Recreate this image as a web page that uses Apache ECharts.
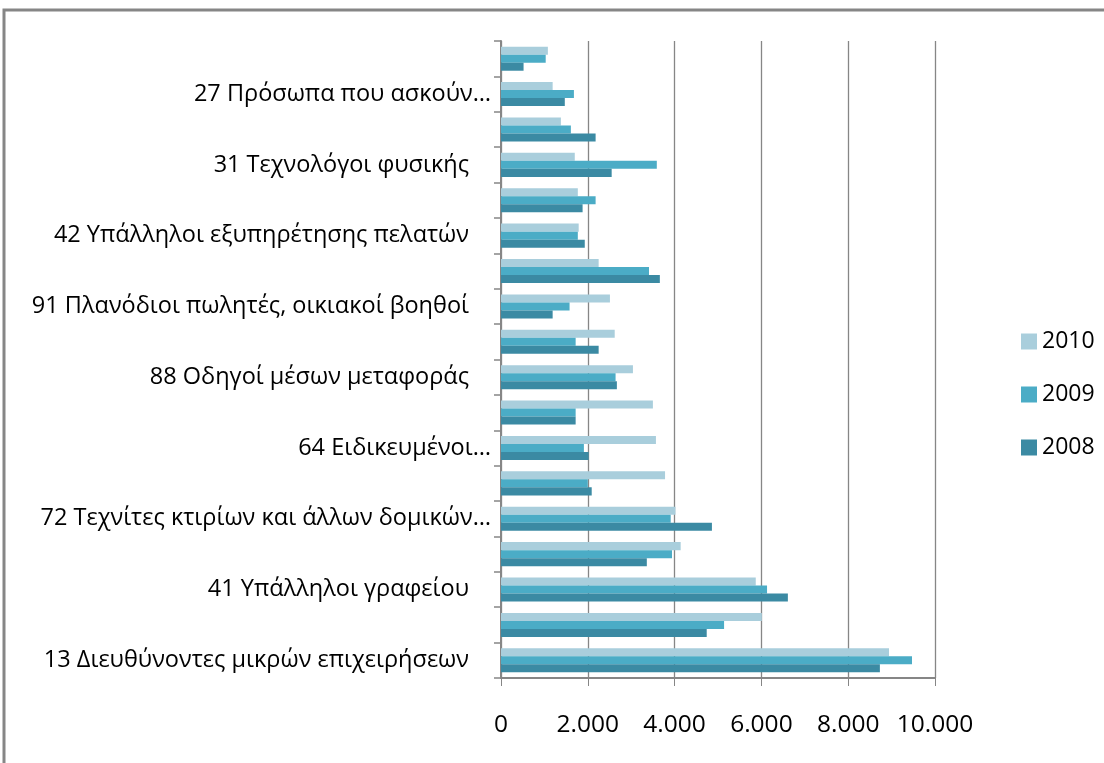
<!DOCTYPE html>
<html lang="el">

<head>
	<meta charset="UTF-8">
	<title>Επαγγέλματα 2008-2010</title>
	<script src="https://cdn.jsdelivr.net/npm/echarts@6/dist/echarts.min.js"></script>
	<style>
		html, body { margin: 0; padding: 0; background: #fff; }
	</style>
</head>

<body>
	<div id="main" style="width: 1104px;height: 763px;"></div>

	<script>
		// categories from bottom to top; only every other one is labelled in the original
		var categories = [
			'13 Διευθύνοντες μικρών επιχειρήσεων', '',
			'41 Υπάλληλοι γραφείου', '',
			'72 Τεχνίτες κτιρίων και άλλων δομικών…', '',
			'64 Ειδικευμένοι…', '',
			'88 Οδηγοί μέσων μεταφοράς', '',
			'91 Πλανόδιοι πωλητές, οικιακοί βοηθοί', '',
			'42 Υπάλληλοι εξυπηρέτησης πελατών', '',
			'31 Τεχνολόγοι φυσικής', '',
			'27 Πρόσωπα που ασκούν…', ''
		];
		var years = ['2010', '2009', '2008'];
		var v2010 = [8940, 6010, 5870, 4140, 4020, 3780, 3570, 3500, 3040, 2620, 2510, 2250, 1790, 1770, 1700, 1380, 1190, 1080];
		var v2009 = [9470, 5140, 6130, 3940, 3910, 2000, 1910, 1720, 2640, 1720, 1580, 3410, 1770, 2180, 3590, 1610, 1680, 1030];
		var v2008 = [8730, 4740, 6610, 3360, 4860, 2090, 2020, 1720, 2670, 2250, 1190, 3660, 1930, 1880, 2550, 2180, 1470, 520];
		var xTicks = [0, 2000, 4000, 6000, 8000, 10000];

		var colors = { '2010': '#A9CEDC', '2009': '#4BACC6', '2008': '#3B8AA3' };
		var values = { '2010': v2010, '2009': v2009, '2008': v2008 };
		var font = '"Open Sans", "Noto Sans", sans-serif';

		var chartDom = document.getElementById('main');
		var myChart = echarts.init(chartDom);

		var seriesList = years.map(function (y) {
			return {
				name: y,
				type: 'bar',
				data: values[y],
				itemStyle: { color: colors[y] },
				barGap: '0%',
				barCategoryGap: '32%',
				animation: false
			};
		});

		var option = {
			animation: false,
			textStyle: { fontFamily: font },
			graphic: [{
				type: 'rect',
				shape: { x: 4, y: 10, width: 1200, height: 900 },
				style: { fill: 'none', stroke: '#868686', lineWidth: 3 },
				silent: true
			}],
			grid: {
				left: 501,
				right: 169,
				top: 41,
				bottom: 85
			},
			legend: {
				orient: 'vertical',
				left: 1016,
				top: 325,
				data: years,
				itemWidth: 16,
				itemHeight: 16,
				itemGap: 30,
				icon: 'rect',
				textStyle: { fontFamily: font, fontSize: 23, color: '#000' }
			},
			xAxis: {
				type: 'value',
				min: xTicks[0],
				max: xTicks[xTicks.length - 1],
				interval: 2000,
				axisLine: { show: true, lineStyle: { color: '#868686', width: 2 } },
				axisTick: { show: true, length: 8, lineStyle: { color: '#868686', width: 1 } },
				splitLine: { show: true, lineStyle: { color: '#868686', width: 1.3 } },
				axisLabel: {
					margin: 35,
					fontFamily: font,
					fontSize: 24.5,
					color: '#000',
					formatter: function (v) {
						return String(v).replace(/\B(?=(\d{3})+(?!\d))/g, '.');
					}
				}
			},
			yAxis: {
				type: 'category',
				data: categories,
				axisLine: { show: true, lineStyle: { color: '#868686', width: 2 } },
				axisTick: { show: true, interval: 0, length: 7, lineStyle: { color: '#868686', width: 1.5 } },
				axisLabel: {
					interval: 1,
					margin: 10,
					fontFamily: font,
					fontSize: 23.5,
					color: '#000',
					formatter: function (v) {
						if (v.slice(-1) === '…') return v;
						return '{p|' + v + '}';
					},
					rich: {
						p: { fontFamily: font, fontSize: 23.5, color: '#000', padding: [0, 22, 0, 0] }
					}
				}
			},
			series: seriesList
		};

		myChart.setOption(option);
	</script>
</body>

</html>
